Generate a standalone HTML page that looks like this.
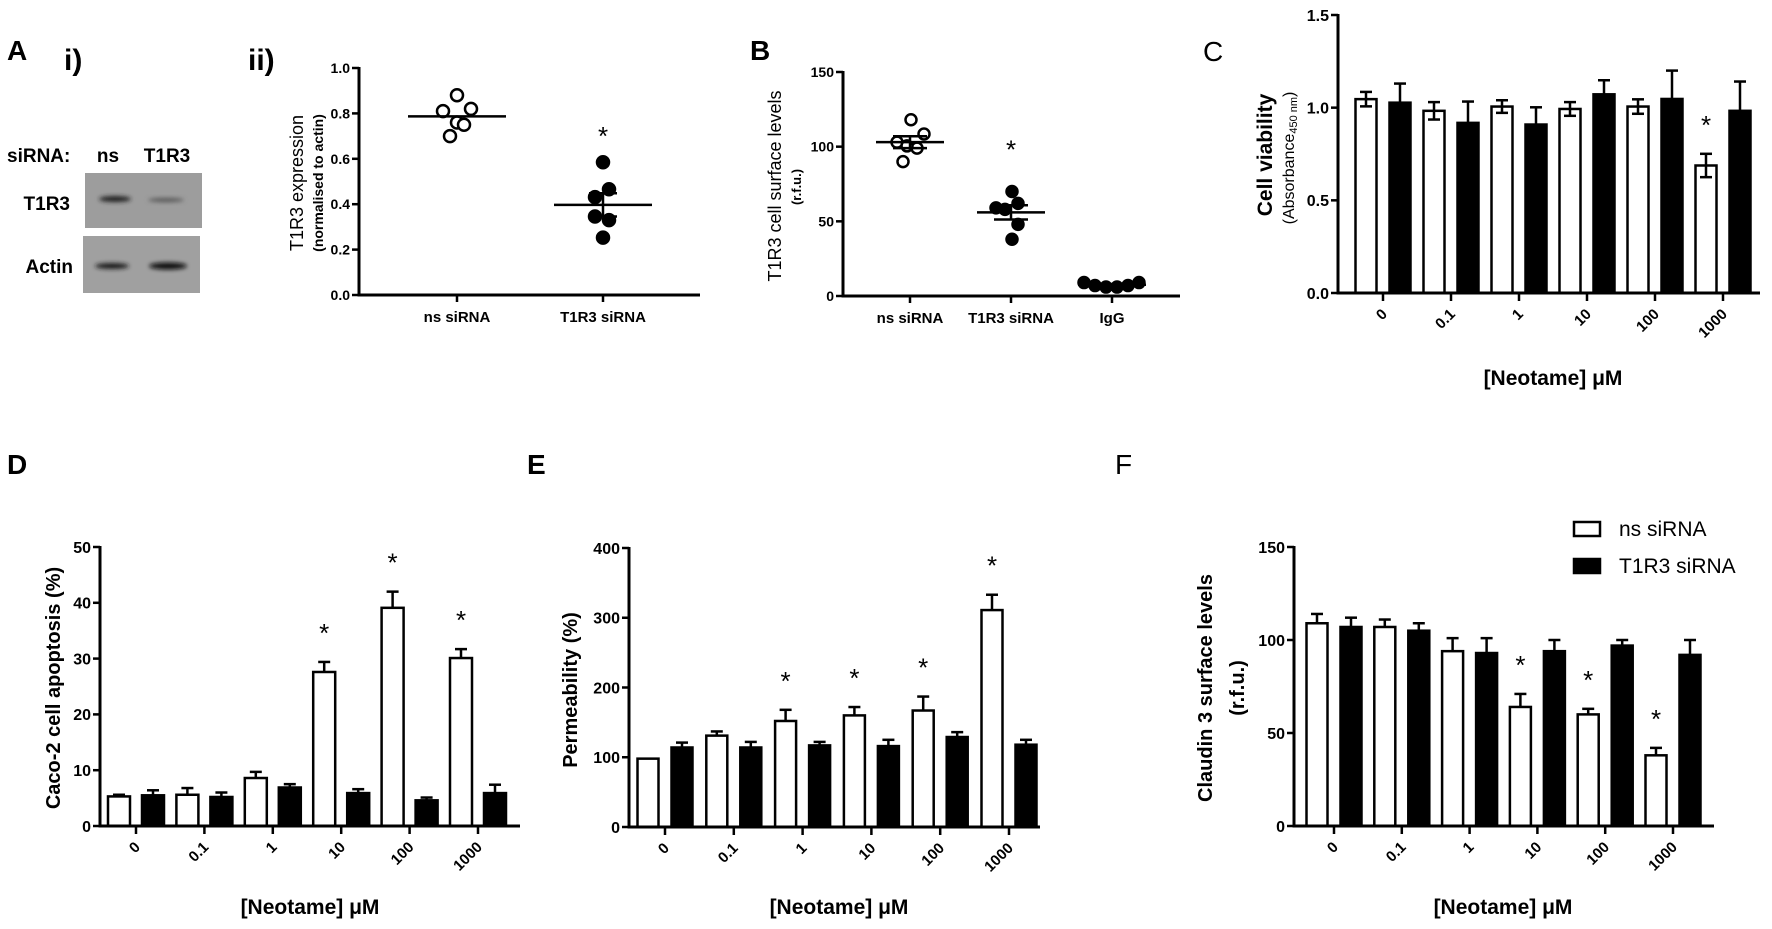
<!DOCTYPE html>
<html><head><meta charset="utf-8">
<style>
html,body{margin:0;padding:0;background:#fff;}
svg{display:block;font-family:"Liberation Sans",Arial,sans-serif;}
</style></head>
<body>
<svg id="fig" width="1772" height="929" viewBox="0 0 1772 929" xmlns="http://www.w3.org/2000/svg">
<defs>
<filter id="blur" x="-30%" y="-100%" width="160%" height="300%"><feGaussianBlur stdDeviation="2.2"/></filter>
</defs>
<!-- Panel A i: western blot -->
<g>
<text x="7" y="60" font-size="28" font-weight="bold">A</text>
<text x="64" y="70" font-size="30" font-weight="bold">i)</text>
<text x="248" y="70" font-size="30" font-weight="bold">ii)</text>
<text x="7" y="162" font-size="19" font-weight="bold">siRNA:</text>
<text x="108" y="162" font-size="19" font-weight="bold" text-anchor="middle">ns</text>
<text x="167" y="162" font-size="19" font-weight="bold" text-anchor="middle">T1R3</text>
<text x="70" y="210" font-size="19" font-weight="bold" text-anchor="end">T1R3</text>
<text x="73" y="273" font-size="19" font-weight="bold" text-anchor="end">Actin</text>
<rect x="85" y="173" width="117" height="55" fill="#9d9d9d"/>
<rect x="83" y="236" width="117" height="57" fill="#a0a0a0"/>
<ellipse cx="115" cy="199" rx="16" ry="3" fill="#222" filter="url(#blur)"/>
<ellipse cx="166" cy="200" rx="18" ry="2" fill="#555" filter="url(#blur)"/>
<ellipse cx="112" cy="266" rx="17" ry="3" fill="#1a1a1a" filter="url(#blur)"/>
<ellipse cx="168" cy="266" rx="19" ry="3.5" fill="#111" filter="url(#blur)"/>
</g>
<g id="charts"></g>
</svg>
<script>
// ---------- Panel A ii data ----------
const iiCats = ["ns siRNA", "T1R3 siRNA"];
const iiNs = [0.88, 0.81, 0.82, 0.76, 0.75, 0.70];
const iiKd = [0.585, 0.466, 0.431, 0.346, 0.33, 0.253];
const iiMeans = [0.787, 0.397];
const iiSem = [0.0, 0.051];
const iiTicks = ["0.0", "0.2", "0.4", "0.6", "0.8", "1.0"];
// ---------- Panel B data ----------
const bCats = ["ns siRNA", "T1R3 siRNA", "IgG"];
const bNs = [118, 108.5, 103, 99, 100.5, 90];
const bKd = [70, 59, 62, 58, 48, 38];
const bIgg = [9, 7, 6, 6, 7, 9];
const bMeans = [103, 56, 7.5];
const bSem = [4, 4.8, 0.5];
const bTicks = ["0", "50", "100", "150"];
// ---------- Bar chart shared categories ----------
const doseCats = ["0", "0.1", "1", "10", "100", "1000"];
// Panel C
const cNs = [1.046, 0.983, 1.006, 0.993, 1.006, 0.688];
const cNsErr = [0.039, 0.047, 0.034, 0.037, 0.039, 0.063];
const cKd = [1.027, 0.918, 0.909, 1.072, 1.047, 0.983];
const cKdErr = [0.103, 0.115, 0.093, 0.076, 0.153, 0.158];
const cStars = [false, false, false, false, false, true];
const cTicks = ["0.0", "0.5", "1.0", "1.5"];
// Panel D
const dNs = [5.3, 5.6, 8.6, 27.6, 39.1, 30.1];
const dNsErr = [0.3, 1.2, 1.1, 1.8, 2.9, 1.6];
const dKd = [5.5, 5.2, 6.9, 5.9, 4.6, 5.9];
const dKdErr = [0.9, 0.8, 0.6, 0.7, 0.5, 1.5];
const dStars = [false, false, false, true, true, true];
const dTicks = ["0", "10", "20", "30", "40", "50"];
// Panel E
const eNs = [98, 131, 152, 160, 167, 311];
const eNsErr = [0, 6, 16, 12, 20, 22];
const eKd = [114, 114, 117, 116, 129, 118];
const eKdErr = [7, 8, 5, 9, 7, 7];
const eStars = [false, false, true, true, true, true];
const eTicks = ["0", "100", "200", "300", "400"];
// Panel F
const fNs = [109, 107, 94, 64, 60, 38];
const fNsErr = [5, 4, 7, 7, 3, 4];
const fKd = [107, 105, 93, 94, 97, 92];
const fKdErr = [5, 4, 8, 6, 3, 8];
const fStars = [false, false, false, true, true, true];
const fTicks = ["0", "50", "100", "150"];

const NS = "http://www.w3.org/2000/svg";
const root = document.getElementById("charts");
function mk(tag, attrs, parent) {
  const e = document.createElementNS(NS, tag);
  for (const k in attrs) e.setAttribute(k, attrs[k]);
  (parent || root).appendChild(e);
  return e;
}
function txt(s, attrs, parent) { const t = mk("text", attrs, parent); t.textContent = s; return t; }

function axes(g, ax) {
  // y axis
  let e = mk("line", {x1: ax.x0, y1: ax.yTop - 1, x2: ax.x0, y2: ax.y0 + 1.5, stroke: "#000", "stroke-width": 3}, g);
  
  
  e = mk("line", {x1: ax.x0 - 1.5, y1: ax.y0, x2: ax.xEnd, y2: ax.y0, stroke: "#000", "stroke-width": 3}, g);
  
  
  ax.ticks.forEach((lab) => {
    const v = parseFloat(lab);
    const y = ax.sy(v);
    const t = mk("line", {x1: ax.x0 - 7, y1: y, x2: ax.x0, y2: y, stroke: "#000", "stroke-width": 2.5}, g);
    
    
    const l = txt(lab, {x: ax.x0 - 9, y: y + ax.tickFs * 0.36, "font-size": ax.tickFs, "font-weight": "bold", "text-anchor": "end"}, g);
    
    
  });
}

function barChart(cfg) {
  const g = mk("g", {});
  
  
  const sy = v => cfg.y0 - (v / cfg.ymax) * (cfg.y0 - cfg.yTop);
  const sx = i => cfg.firstTick + i * cfg.step;
  axes(g, {x0: cfg.x0, y0: cfg.y0, yTop: cfg.yTop, xEnd: cfg.xEnd, ticks: cfg.ticks, sy: sy, tickFs: cfg.tickFs});
  cfg.cats.forEach((c, i) => {
    const cx = sx(i);
    const tk = mk("line", {x1: cx, y1: cfg.y0, x2: cx, y2: cfg.y0 + 8, stroke: "#000", "stroke-width": 2.5}, g);
    
    
    const tl = txt(c, {x: cx + 5, y: cfg.y0 + 22, "font-size": cfg.tickFs - 1, "font-weight": "bold", "text-anchor": "end", transform: "rotate(-45 " + (cx + 5) + " " + (cfg.y0 + 22) + ")"}, g);
    
    
    [[cfg.ns, cfg.nsErr, -cfg.off, "#fff", "ns"], [cfg.kd, cfg.kdErr, cfg.off, "#000", "t1r3"]].forEach(([vals, errs, off, fill, nm]) => {
      const bx = cx + off - cfg.bw / 2;
      const top = sy(vals[i]);
      const et = sy(vals[i] + errs[i]);
      const mid = cx + off;
      if (errs[i] > 0) {
        const eb = mk("line", {x1: mid, y1: et, x2: mid, y2: cfg.lower && fill === "#fff" ? sy(vals[i] - errs[i]) : top, stroke: "#000", "stroke-width": 2.5}, g);
        
        
        const cap = mk("line", {x1: mid - 6, y1: et, x2: mid + 6, y2: et, stroke: "#000", "stroke-width": 2.5}, g);
        
        
        if (cfg.lower && fill === "#fff") {
          const cap2 = mk("line", {x1: mid - 6, y1: sy(vals[i] - errs[i]), x2: mid + 6, y2: sy(vals[i] - errs[i]), stroke: "#000", "stroke-width": 2.5}, g);
          
          
        }
      }
      const r = mk("rect", {x: bx, y: top, width: cfg.bw, height: cfg.y0 - top, fill: fill === "#fff" ? "none" : "#000", stroke: "#000", "stroke-width": 2.5}, g);
      
      
    });
    if (cfg.stars[i]) {
      const st = txt("*", {x: cx - cfg.off, y: sy(cfg.ns[i] + cfg.nsErr[i]) - 20, "font-size": 26, "text-anchor": "middle"}, g);
      
      
    }
  });
  const xt = txt("[Neotame] \u03bcM", {x: cfg.xtX, y: cfg.xtY, "font-size": 21, "font-weight": "bold", "text-anchor": "middle"}, g);
  
  
  return {g: g, sy: sy};
}

// ---------- Panel C ----------
let C = barChart({name: "panel-c-chart", x0: 1338, y0: 293, yTop: 15, ymax: 1.5, xEnd: 1760, ticks: cTicks, tickFs: 16,
  cats: doseCats, firstTick: 1383, step: 68, off: 17, bw: 21, ns: cNs, nsErr: cNsErr, kd: cKd, kdErr: cKdErr, stars: cStars, lower: true, xtX: 1553, xtY: 385});
// ---------- Panel D ----------
let D = barChart({name: "panel-d-chart", x0: 100, y0: 826, yTop: 547, ymax: 50, xEnd: 520, ticks: dTicks, tickFs: 16,
  cats: doseCats, firstTick: 136, step: 68.4, off: 17, bw: 22, ns: dNs, nsErr: dNsErr, kd: dKd, kdErr: dKdErr, stars: dStars, lower: false, xtX: 310, xtY: 914});
// ---------- Panel E ----------
let E = barChart({name: "panel-e-chart", x0: 629, y0: 827, yTop: 548, ymax: 400, xEnd: 1040, ticks: eTicks, tickFs: 16,
  cats: doseCats, firstTick: 665, step: 68.8, off: 17, bw: 21, ns: eNs, nsErr: eNsErr, kd: eKd, kdErr: eKdErr, stars: eStars, lower: false, xtX: 839, xtY: 914});
// ---------- Panel F ----------
let F = barChart({name: "panel-f-chart", x0: 1294, y0: 826, yTop: 547, ymax: 150, xEnd: 1714, ticks: fTicks, tickFs: 16,
  cats: doseCats, firstTick: 1334, step: 67.8, off: 17, bw: 21, ns: fNs, nsErr: fNsErr, kd: fKd, kdErr: fKdErr, stars: fStars, lower: false, xtX: 1503, xtY: 914});

// ---------- Dot plots ----------
function dotPlot(cfg) {
  const g = mk("g", {});
  
  
  const sy = v => cfg.y0 - (v / cfg.ymax) * (cfg.y0 - cfg.yTop);
  const sx = i => cfg.firstTick + i * cfg.step;
  axes(g, {x0: cfg.x0, y0: cfg.y0, yTop: cfg.yTop, xEnd: cfg.xEnd, ticks: cfg.ticks, sy: sy, tickFs: cfg.tickFs});
  cfg.cats.forEach((c, i) => {
    const cx = sx(i);
    const tk = mk("line", {x1: cx, y1: cfg.y0, x2: cx, y2: cfg.y0 + 7, stroke: "#000", "stroke-width": 2.5}, g);
    
    
    const tl = txt(c, {x: cx, y: cfg.y0 + 27, "font-size": cfg.labFs, "font-weight": "bold", "text-anchor": "middle"}, g);
    
    
    const vals = cfg.series[i];
    const jit = cfg.jitter[i];
    vals.forEach((v, j) => {
      const d = mk("circle", {cx: cx + jit[j], cy: sy(v), r: cfg.r, fill: i === 0 ? "#fff" : "#000", stroke: "#000", "stroke-width": 2.5}, g);
      
      
    });
    const m = sy(cfg.means[i]);
    const ml = mk("line", {x1: cx - cfg.mw, y1: m, x2: cx + cfg.mw, y2: m, stroke: "#000", "stroke-width": 2.5}, g);
    
    
    if (cfg.sem[i] > 0) {
      const a = sy(cfg.means[i] + cfg.sem[i]), b = sy(cfg.means[i] - cfg.sem[i]);
      [a, b].forEach(yy => {
        const s = mk("line", {x1: cx - cfg.sw, y1: yy, x2: cx + cfg.sw, y2: yy, stroke: "#000", "stroke-width": 2.5}, g);
        
        
      });
      const v = mk("line", {x1: cx, y1: a, x2: cx, y2: b, stroke: "#000", "stroke-width": 2.5}, g);
      
      
    }
    if (cfg.stars[i]) {
      const st = txt("*", {x: cx, y: sy(cfg.starAt), "font-size": 26, "text-anchor": "middle"}, g);
      
      
    }
  });
}
dotPlot({name: "panel-a-ii-chart", x0: 359, y0: 295, yTop: 68, ymax: 1.0, xEnd: 700, ticks: iiTicks, tickFs: 14, labFs: 15,
  cats: iiCats, firstTick: 457, step: 146, series: [iiNs, iiKd], jitter: [[0, -14, 14, 0, 7, -7], [0, 6, -8, -8, 6, 0]],
  means: iiMeans, sem: iiSem, mw: 49, sw: 14, r: 6, stars: [false, true], starAt: 0.66});
dotPlot({name: "panel-b-chart", x0: 843, y0: 296, yTop: 72, ymax: 150, xEnd: 1180, ticks: bTicks, tickFs: 14, labFs: 15,
  cats: bCats, firstTick: 910, step: 101, series: [bNs, bKd, bIgg], jitter: [[1, 14, -13, 7, -3, -7], [1, -15, 7, -6, 7, 1], [-28, -17, -6, 5, 16, 27]],
  means: bMeans, sem: bSem, mw: 34, sw: 17, r: 5.5, stars: [false, true, false], starAt: 92});

// ---------- Labels & titles ----------
function lab(s, name, attrs) {
  const t = txt(s, attrs);
  
  
  return t;
}
lab("B", "panel-label-b", {x: 750, y: 60, "font-size": 28, "font-weight": "bold"});
lab("C", "panel-label-c", {x: 1203, y: 61, "font-size": 28});
lab("D", "panel-label-d", {x: 7, y: 474, "font-size": 28, "font-weight": "bold"});
lab("E", "panel-label-e", {x: 527, y: 474, "font-size": 28, "font-weight": "bold"});
lab("F", "panel-label-f", {x: 1115, y: 474, "font-size": 28});
lab("T1R3 expression", "y-axis-title-ii", {x: 0, y: 0, "font-size": 18, "text-anchor": "middle", transform: "translate(303 183) rotate(-90)"});
lab("(normalised to actin)", "y-axis-subtitle-ii", {x: 0, y: 0, "font-size": 14, "font-weight": "bold", "text-anchor": "middle", transform: "translate(323 183) rotate(-90)"});
lab("T1R3 cell surface levels", "y-axis-title-b", {x: 0, y: 0, "font-size": 18, "text-anchor": "middle", transform: "translate(781 186) rotate(-90)"});
lab("(r.f.u.)", "y-axis-subtitle-b", {x: 0, y: 0, "font-size": 13, "font-weight": "bold", "text-anchor": "middle", transform: "translate(801 187) rotate(-90)"});
const cv = lab("Cell viability", "y-axis-title-c", {x: 0, y: 0, "font-size": 21, "font-weight": "bold", "text-anchor": "middle", transform: "translate(1272 155) rotate(-90)"});
const ab = txt("", {x: 0, y: 0, "font-size": 16, "text-anchor": "middle", transform: "translate(1294 158) rotate(-90)"});


ab.innerHTML = '(Absorbance<tspan font-size="11" dy="3">450 nm</tspan><tspan dy="-3">)</tspan>';
lab("Caco-2 cell apoptosis (%)", "y-axis-title-d", {x: 0, y: 0, "font-size": 20, "font-weight": "bold", "text-anchor": "middle", transform: "translate(60 688) rotate(-90)"});
lab("Permeability (%)", "y-axis-title-e", {x: 0, y: 0, "font-size": 20, "font-weight": "bold", "text-anchor": "middle", transform: "translate(577 690) rotate(-90)"});
lab("Claudin 3 surface levels", "y-axis-title-f", {x: 0, y: 0, "font-size": 20, "font-weight": "bold", "text-anchor": "middle", transform: "translate(1212 688) rotate(-90)"});
lab("(r.f.u.)", "y-axis-subtitle-f", {x: 0, y: 0, "font-size": 20, "font-weight": "bold", "text-anchor": "middle", transform: "translate(1244 688) rotate(-90)"});
// legend
const lg = mk("g", {});


let lr = mk("rect", {x: 1574, y: 522, width: 26, height: 14, fill: "#fff", stroke: "#000", "stroke-width": 2.5}, lg);


lr = mk("rect", {x: 1574, y: 559, width: 26, height: 14, fill: "#000", stroke: "#000", "stroke-width": 2.5}, lg);


let lt = txt("ns siRNA", {x: 1619, y: 536, "font-size": 21}, lg);


lt = txt("T1R3 siRNA", {x: 1619, y: 573, "font-size": 21}, lg);


</script>
</body></html>
